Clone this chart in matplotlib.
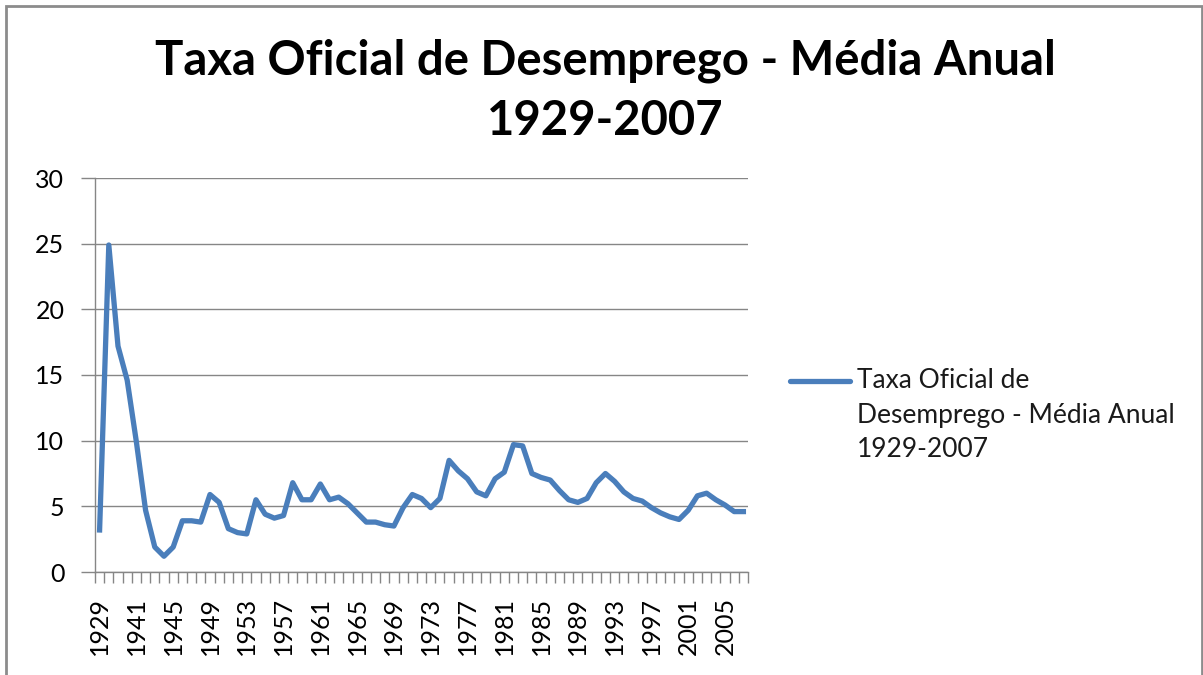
"""
Taxa oficial de desemprego (EUA) - média anual, 1929-2007.
Recria o gráfico de linha no estilo Excel 2007.
"""

import numpy as np
import matplotlib.pyplot as plt
from matplotlib.lines import Line2D
from matplotlib.patches import Rectangle

plt.rcParams["font.family"] = ["Lato", "DejaVu Sans"]

# anos da série (a planilha original salta de 1929 para 1933, 1939, 1940 ...)
years = [1929, 1933, 1939] + list(range(1940, 2008))

rate = [
    3.2, 24.9, 17.2, 14.6, 9.9, 4.7, 1.9, 1.2, 1.9, 3.9,
    3.9, 3.8, 5.9, 5.3, 3.3, 3.0, 2.9, 5.5, 4.4, 4.1,
    4.3, 6.8, 5.5, 5.5, 6.7, 5.5, 5.7, 5.2, 4.5, 3.8,
    3.8, 3.6, 3.5, 4.9, 5.9, 5.6, 4.9, 5.6, 8.5, 7.7,
    7.1, 6.1, 5.8, 7.1, 7.6, 9.7, 9.6, 7.5, 7.2, 7.0,
    6.2, 5.5, 5.3, 5.6, 6.8, 7.5, 6.9, 6.1, 5.6, 5.4,
    4.9, 4.5, 4.2, 4.0, 4.7, 5.8, 6.0, 5.5, 5.1, 4.6,
    4.6,
]

y_ticks = [0, 5, 10, 15, 20, 25, 30]
label_step = 4

title = "Taxa Oficial de Desemprego - Média Anual\n1929-2007"
series_name = "Taxa Oficial de\nDesemprego - Média Anual\n1929-2007"

line_color = "#4A7EBB"
axis_gray = "#868686"

W, H = 1203, 675
fig = plt.figure(figsize=(W / 100, H / 100), dpi=100)
ax = fig.add_axes([95 / W, 1 - 572 / H, (748 - 95) / W, (572 - 178) / H])

x = np.arange(len(years))
ax.plot(x, rate, color=line_color, linewidth=3.8, solid_joinstyle="round")

ax.set_xlim(-0.5, len(years) - 0.5)
ax.set_ylim(0, 30)
ax.set_yticks(y_ticks)
ax.grid(axis="y", color=axis_gray, linewidth=1.0)
ax.set_axisbelow(True)

# rótulos a cada 4 categorias, marcas entre categorias
ax.set_xticks(x[::label_step])
ax.set_xticklabels([str(years[i]) for i in x[::label_step]], rotation=90)
ax.set_xticks(np.arange(-0.5, len(years)), minor=True)
ax.tick_params(axis="x", which="major", length=0, pad=18, labelsize=18)
ax.tick_params(axis="x", which="minor", length=8, color=axis_gray, width=1.0)
ax.tick_params(axis="y", length=10, color=axis_gray, width=1.0, pad=12, labelsize=18)

for side in ("top", "right"):
    ax.spines[side].set_visible(False)
for side in ("left", "bottom"):
    ax.spines[side].set_color(axis_gray)
    ax.spines[side].set_linewidth(1.0)

fig.text(0.503, 0.943, title, ha="center", va="top", fontsize=34,
         fontweight="bold", linespacing=1.45)

# legenda à direita: marcador alinhado com a primeira linha do texto
fig.add_artist(Line2D([790 / W, 850 / W], [1 - 381 / H] * 2,
                      transform=fig.transFigure, color=line_color,
                      linewidth=3.8, solid_capstyle="round"))
fig.text(857 / W, 1 - 368 / H, series_name, ha="left", va="top",
         fontsize=19, linespacing=1.48, color="#1a1a1a")

# moldura da área do gráfico
fig.patches.append(Rectangle((6 / W, -0.05), 1196 / W, 1.05 - 6 / H,
                             transform=fig.transFigure, fill=False,
                             edgecolor="#8C8C8C", linewidth=2.0))

fig.savefig("out.png", dpi=100)
